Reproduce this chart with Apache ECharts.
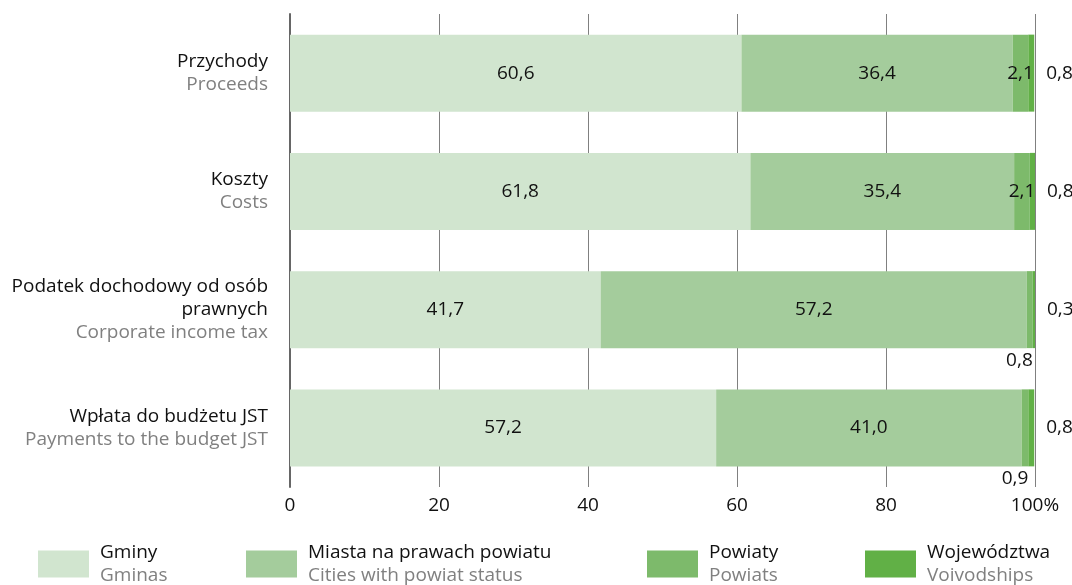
<!DOCTYPE html>
<html>
<head>
<meta charset="utf-8">
<title>Struktura</title>
<script src="https://cdn.jsdelivr.net/npm/echarts@6/dist/echarts.min.js"></script>
<style>
  html, body { margin: 0; padding: 0; background: #fff; }
  #main { width: 1072px; height: 585px; }
</style>
</head>
<body>
<div id="main"></div>
<script>
// kategorie (pl / en)
var categoriesPl = ['Przychody', 'Koszty', 'Podatek dochodowy od osób\nprawnych', 'Wpłata do budżetu JST'];
var categoriesEn = ['Proceeds', 'Costs', 'Corporate income tax', 'Payments to the budget JST'];

// serie w %
var seriesPl = ['Gminy', 'Miasta na prawach powiatu', 'Powiaty', 'Województwa'];
var seriesEn = ['Gminas', 'Cities with powiat status', 'Powiats', 'Voivodships'];
var gminy = [60.6, 61.8, 41.7, 57.2];
var miasta = [36.4, 35.4, 57.2, 41.0];
var powiaty = [2.1, 2.1, 0.8, 0.9];
var wojewodztwa = [0.8, 0.8, 0.3, 0.8];

var xTicks = [0, 20, 40, 60, 80, 100];

var colors = ['#d1e5cf', '#a4cc9c', '#7dba6b', '#61b046'];
var FONT = '"Open Sans", sans-serif';
var FS = 19;

function fmt(v) {
	return v.toFixed(1).replace('.', ',');
}

window.onload = function () {
	var myChart = echarts.init(document.getElementById('main'));

	var baseLabel = {
		show: true,
		color: '#111',
		fontSize: FS,
		fontFamily: FONT,
		formatter: function (p) { return fmt(p.value); }
	};

	// powiaty: dwa pierwsze w środku, dwa ostatnie pod słupkiem
	var powiatyData = powiaty.map(function (v, i) {
		if (i < 2) return v;
		return {
			value: v,
			label: {
				position: ['100%', '100%'],
				align: 'right',
				verticalAlign: 'top',
				offset: [0, 3]
			}
		};
	});

	var legends = [38, 246, 647, 865].map(function (x, i) {
		return {
			data: [seriesPl[i]],
			left: x,
			top: 543,
			padding: 0,
			icon: 'rect',
			itemWidth: 51,
			itemHeight: 27,
			selectedMode: false,
			textStyle: {
				padding: [0, 0, 0, 6],
				rich: {
					a: { fontSize: FS, fontFamily: FONT, color: '#111', lineHeight: 23 },
					b: { fontSize: FS, fontFamily: FONT, color: '#808080', lineHeight: 23 }
				}
			},
			formatter: function () {
				return '{a|' + seriesPl[i] + '}\n{b|' + seriesEn[i] + '}';
			}
		};
	});

	var option = {
		animation: false,
		color: colors,
		grid: { left: 290, right: 37, top: 14, bottom: 98 },
		legend: legends,
		xAxis: {
			type: 'value',
			min: 0,
			max: 100,
			interval: 20,
			axisLine: { show: false },
			axisTick: { show: false },
			splitLine: { lineStyle: { color: '#808080', width: 1 } },
			axisLabel: {
				margin: 9,
				color: '#111',
				fontSize: FS,
				fontFamily: FONT,
				formatter: function (v) { return v === 100 ? '100%' : String(v); }
			}
		},
		yAxis: {
			type: 'category',
			inverse: true,
			data: categoriesPl,
			axisTick: { show: false },
			axisLine: { show: true, lineStyle: { color: '#666', width: 2 } },
			axisLabel: {
				margin: 22,
				align: 'right',
				formatter: function (v, i) {
					var lines = v.split('\n').map(function (s) { return '{a|' + s + '}'; });
					return lines.join('\n') + '\n{b|' + categoriesEn[i] + '}';
				},
				rich: {
					a: { fontSize: FS, fontFamily: FONT, color: '#111', lineHeight: 23, align: 'right' },
					b: { fontSize: FS, fontFamily: FONT, color: '#808080', lineHeight: 23, align: 'right' }
				}
			}
		},
		series: [
			{
				name: seriesPl[0], type: 'bar', stack: 'total', barWidth: 77,
				data: gminy, label: baseLabel
			},
			{
				name: seriesPl[1], type: 'bar', stack: 'total', barWidth: 77,
				data: miasta, label: baseLabel
			},
			{
				name: seriesPl[2], type: 'bar', stack: 'total', barWidth: 77,
				data: powiatyData,
				label: Object.assign({}, baseLabel, { position: 'inside' })
			},
			{
				name: seriesPl[3], type: 'bar', stack: 'total', barWidth: 77,
				data: wojewodztwa,
				label: Object.assign({}, baseLabel, { position: 'right', distance: 12 })
			}
		]
	};
	myChart.setOption(option);
};
</script>
</body>
</html>
